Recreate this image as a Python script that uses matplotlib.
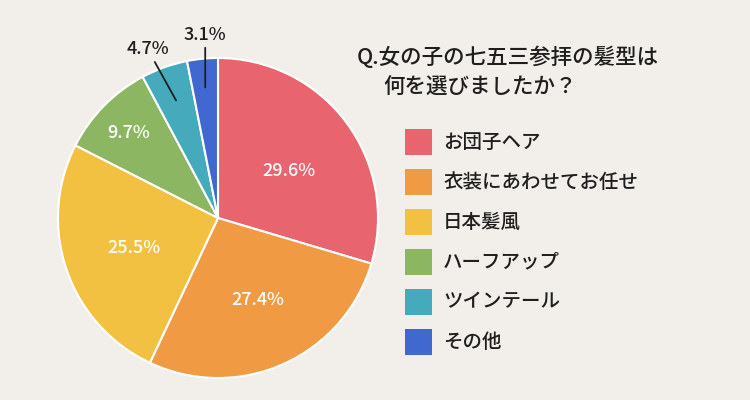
import matplotlib.pyplot as plt
import matplotlib.patches as mpatches
import numpy as np

plt.rcParams['font.family'] = ['Noto Sans CJK JP', 'DejaVu Sans']

categories = ['お団子ヘア', '衣装にあわせてお任せ', '日本髪風', 'ハーフアップ', 'ツインテール', 'その他']
values = [29.6, 27.4, 25.5, 9.7, 4.7, 3.1]
colors = ['#e8646f', '#f09b43', '#f3c141', '#8db662', '#46aabd', '#4068cf']
title_lines = ['Q.女の子の七五三参拝の髪型は', '何を選びましたか？']

bg = '#f2eeea'
ink = '#1e1e1e'
fig = plt.figure(figsize=(7.5, 4), dpi=100, facecolor=bg)
ax = fig.add_axes([58 / 750, 22 / 400, 320 / 750, 320 / 400])
ax.set_facecolor(bg)

wedges, _ = ax.pie(values, colors=colors, startangle=90, counterclock=False,
                   wedgeprops=dict(edgecolor='white', linewidth=1.5))
ax.set_xlim(-1, 1)
ax.set_ylim(-1, 1)
ax.set_aspect('equal')
ax.axis('off')

# label radius / angle nudge for the inside labels
label_r = [0.53, 0.57, 0.56, 0.77, None, None]
label_da = [-3, 2, 1, 1, 0, 0]
for w, v, r, da in zip(wedges, values, label_r, label_da):
    ang = np.deg2rad((w.theta1 + w.theta2) / 2 + da)
    if r is not None:
        ax.text(r * np.cos(ang), r * np.sin(ang), f'{v}%', color='white',
                fontsize=13, fontweight='medium', ha='center', va='center')

# outside labels with leader lines
out_idx = [4, 5]
line_start = [0.78, 0.82]
text_pos = [(-0.44, 1.0), (-0.08, 1.09)]
for i, rs, tp in zip(out_idx, line_start, text_pos):
    w = wedges[i]
    ang = np.deg2rad((w.theta1 + w.theta2) / 2)
    p0 = (rs * np.cos(ang), rs * np.sin(ang))
    ax.annotate(f'{values[i]}%', xy=p0, xytext=tp, color=ink,
                fontsize=13, fontweight='medium', ha='center', va='bottom',
                arrowprops=dict(arrowstyle='-', color=ink, lw=1.3,
                                shrinkA=1, shrinkB=0),
                annotation_clip=False)

# title
fig.text(357 / 750, 1 - 58 / 400, title_lines[0], fontsize=15.5, color=ink,
         fontweight='medium', ha='left', va='center')
fig.text(383 / 750, 1 - 88 / 400, title_lines[1], fontsize=15.5, color=ink,
         fontweight='medium', ha='left', va='center')

# legend
for k, (c, name) in enumerate(zip(colors, categories)):
    yc = 142 + 40 * k
    fig.patches.append(mpatches.Rectangle((405 / 750, 1 - (yc + 13) / 400), 27 / 750, 26 / 400,
                                          transform=fig.transFigure, facecolor=c,
                                          edgecolor='none'))
    fig.text(443 / 750, 1 - yc / 400, name, fontsize=14, color=ink,
             fontweight='medium', ha='left', va='center')

fig.savefig('out.png', dpi=100, facecolor=bg)
